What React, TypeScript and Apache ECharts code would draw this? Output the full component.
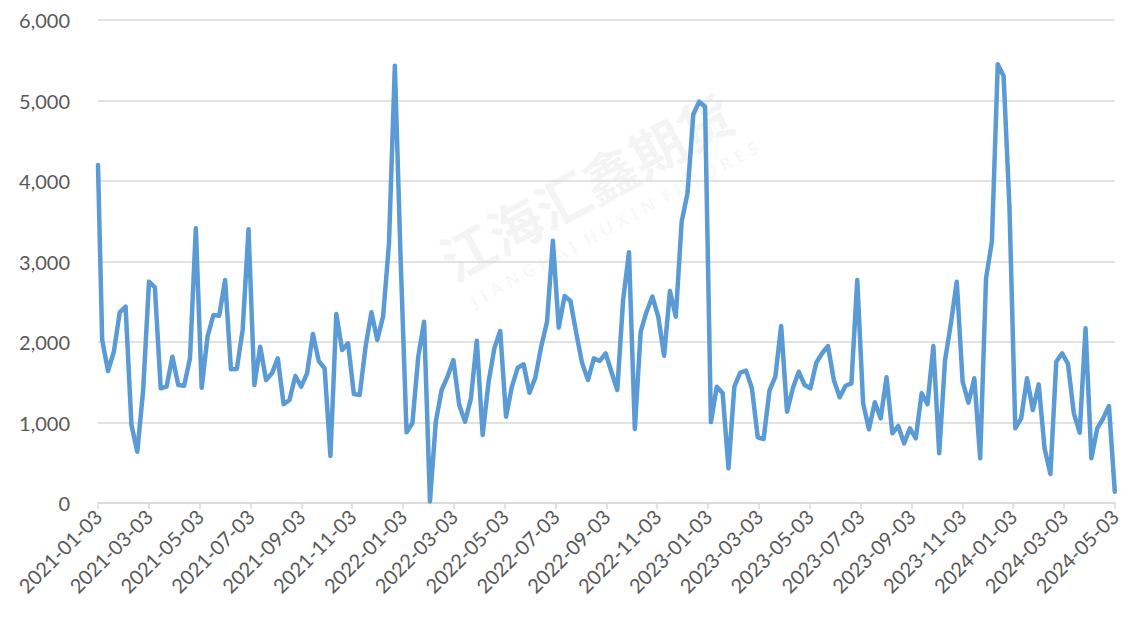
import React, { useEffect, useRef } from 'react';
import * as echarts from 'echarts';

// Tick labels on the date axis (every two months)
const tickLabels = [
  '2021-01-03', '2021-03-03', '2021-05-03', '2021-07-03', '2021-09-03', '2021-11-03',
  '2022-01-03', '2022-03-03', '2022-05-03', '2022-07-03', '2022-09-03', '2022-11-03',
  '2023-01-03', '2023-03-03', '2023-05-03', '2023-07-03', '2023-09-03', '2023-11-03',
  '2024-01-03', '2024-03-03', '2024-05-03',
];

const axisStart = '2021-01-03';
const axisEnd = '2024-05-03';
const firstDate = '2021-01-03';
const weeklyStart = '2021-01-08'; // weekly (Friday) observations thereafter
const weeklyCount = 174;

// Weekly values
const values = [
  4200,
  2025, 1640, 1880, 2369, 2440, 970, 637, 1400, 2750, 2680,
  1425, 1445, 1817, 1466, 1457, 1797, 3412, 1432, 2066, 2335,
  2327, 2770, 1660, 1665, 2149, 3400, 1466, 1942, 1528, 1611,
  1797, 1226, 1280, 1578, 1445, 1611, 2099, 1764, 1673, 584,
  2348, 1900, 1984, 1354, 1342, 1942, 2369, 2025, 2320, 3226,
  5433, 3000, 878, 990, 1817, 2252, 20, 1010, 1404, 1569,
  1776, 1217, 1010, 1300, 2016, 845, 1494, 1922, 2137, 1072,
  1445, 1681, 1723, 1370, 1557, 1942, 2252, 3258, 2178, 2571,
  2509, 2108, 1735, 1528, 1797, 1764, 1860, 1631, 1404, 2522,
  3114, 919, 2128, 2376, 2563, 2314, 1830, 2634, 2314, 3495,
  3847, 4832, 4985, 4923, 1005, 1445, 1365, 431, 1445, 1619,
  1644, 1425, 816, 795, 1395, 1569, 2199, 1134, 1425, 1631,
  1466, 1425, 1743, 1860, 1950, 1528, 1313, 1457, 1487, 2770,
  1238, 915, 1251, 1052, 1561, 866, 957, 741, 928, 804,
  1363, 1226, 1950, 617, 1776, 2232, 2749, 1507, 1246, 1549,
  555, 2791, 3246, 5449, 5304, 3681, 928, 1052, 1549, 1155,
  1474, 679, 360, 1755, 1860, 1727, 1114, 873, 2170, 555,
  928, 1050, 1205, 140,
];

const DAY = 86400000;

function buildDates(): string[] {
  const out = [firstDate];
  const s = Date.parse(weeklyStart);
  for (let i = 0; i < weeklyCount; i++) {
    out.push(new Date(s + i * 7 * DAY).toISOString().slice(0, 10));
  }
  return out;
}

export default function App() {
  const ref = useRef<HTMLDivElement>(null);

  useEffect(() => {
    if (!ref.current) return;
    const chart = echarts.init(ref.current, null, { renderer: 'svg' });
    const t0 = Date.parse(axisStart);
    const span = (Date.parse(axisEnd) - t0) / DAY;
    const step = span / (tickLabels.length - 1);
    const dates = buildDates();
    const data = values.map((v, i) => [(Date.parse(dates[i]) - t0) / DAY, v]);

    chart.setOption({
      animation: false,
      backgroundColor: '#ffffff',
      textStyle: { fontFamily: 'Lato, "Noto Sans", sans-serif' },
      grid: { left: 98, right: 6, top: 20, bottom: 114, containLabel: false },
      graphic: [
        {
          type: 'text',
          silent: true,
          x: 585,
          y: 185,
          rotation: 0.5,
          style: {
            text: '江海汇鑫期货',
            fill: 'rgba(0,0,0,0.045)',
            font: 'bold 54px "Noto Sans CJK SC"',
            textAlign: 'center',
            textVerticalAlign: 'middle',
          },
          z: -1,
        },
        {
          type: 'text',
          silent: true,
          x: 614,
          y: 224,
          rotation: 0.5,
          style: {
            text: 'J I A N G H A I  H U X I N  F U T U R E S',
            fill: 'rgba(0,0,0,0.04)',
            font: 'bold 18px "Noto Sans"',
            textAlign: 'center',
            textVerticalAlign: 'middle',
          },
          z: -1,
        },
      ],
      xAxis: {
        type: 'value',
        min: 0,
        max: span,
        interval: step,
        axisLine: { show: true, lineStyle: { color: '#D9D9D9', width: 1.5 } },
        axisTick: { show: true, length: 6, lineStyle: { color: '#D9D9D9', width: 1.5 } },
        splitLine: { show: false },
        axisLabel: {
          rotate: 45,
          margin: 10,
          color: '#595959',
          fontSize: 20,
          fontFamily: 'Lato',
          showMinLabel: true,
          showMaxLabel: true,
          formatter: (v: number) => tickLabels[Math.round(v / step)] ?? '',
        },
      },
      yAxis: {
        type: 'value',
        min: 0,
        max: 6000,
        interval: 1000,
        axisLine: { show: false },
        axisTick: { show: false },
        splitLine: { show: true, lineStyle: { color: '#D9D9D9', width: 1.5 } },
        axisLabel: {
          margin: 28,
          color: '#595959',
          fontSize: 20,
          fontFamily: 'Lato',
          formatter: (v: number) => v.toLocaleString('en-US'),
        },
      },
      series: [
        {
          type: 'line',
          data,
          showSymbol: false,
          symbol: 'none',
          lineStyle: { color: '#5B9BD5', width: 4.5, cap: 'round', join: 'round' },
          itemStyle: { color: '#5B9BD5' },
          z: 3,
        },
      ],
    });

    return () => chart.dispose();
  }, []);

  return (
    <div
      ref={ref}
      style={{ position: 'fixed', left: 0, top: 0, width: 1124, height: 617 }}
    />
  );
}
